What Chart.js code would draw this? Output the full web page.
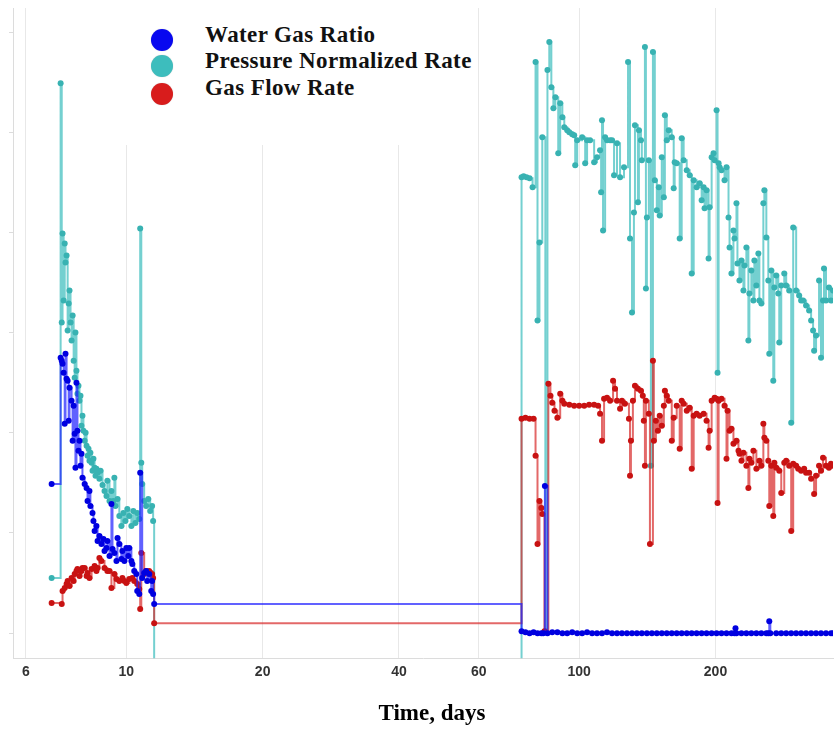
<!DOCTYPE html>
<html>
<head>
<meta charset="utf-8">
<script src="https://cdn.jsdelivr.net/npm/chart.js"></script>
<style>
  body { margin: 0; background: #fff; }
  #wrap { position: relative; width: 837px; height: 730px; }
  #legend { position: absolute; left: 78px; top: 0; width: 398px; height: 145px; background: #fff; }
  .dot { position: absolute; left: 73px; width: 22px; height: 22px; border-radius: 50%; box-shadow: 0 0 1px 0 rgba(0,0,0,0.25); }
  .lbl { position: absolute; left: 127px; font: bold 23px "Liberation Serif", "Times New Roman", serif; letter-spacing: 0.4px; line-height: 23px; color: #111; white-space: nowrap; }
  #xtitle { position: absolute; left: 0; width: 864px; top: 701px; text-align: center; font: bold 23px "Liberation Serif", "Times New Roman", serif; line-height: 23px; color: #000; }
</style>
</head>
<body>
<div id="wrap">
  <canvas id="chart" width="837" height="730"></canvas>
  <div id="legend">
    <div class="dot" style="top:29px;background:#0808f0"></div>
    <div class="lbl" style="top:23px">Water Gas Ratio</div>
    <div class="dot" style="top:55px;background:#3dbdbd"></div>
    <div class="lbl" style="top:49px">Pressure Normalized Rate</div>
    <div class="dot" style="top:83px;background:#d81c1c"></div>
    <div class="lbl" style="top:76px">Gas Flow Rate</div>
  </div>
  <div id="xtitle">Time, days</div>
</div>
<script>
// time axis (days, log scale) and y ticks (no labels on the y axis)
const xTickValues = [6, 10, 20, 40, 60, 100, 200];
const yTickValues = [0, 1, 2, 3, 4, 5, 6];

// Water Gas Ratio
const wgrDays = [
  6.84, 7.16, 7.20, 7.23, 7.27, 7.31, 7.34, 7.38, 7.42, 7.46,
  7.49, 7.57, 7.61, 7.65, 7.69, 7.72, 7.76, 7.80, 7.84, 7.88,
  7.92, 7.96, 8.00, 8.09, 8.17, 8.21, 8.29, 8.33, 8.42, 8.46,
  8.51, 8.59, 8.64, 8.72, 8.81, 8.90, 8.95, 9.04, 9.08, 9.18,
  9.27, 9.32, 9.41, 9.51, 9.56, 9.65, 9.75, 9.80, 9.90, 10.00,
  10.10, 10.15, 10.26, 10.31, 10.41, 10.52, 10.57, 10.68, 10.73, 10.84,
  10.95, 11.06, 11.12, 11.23, 11.35, 11.40, 11.46, 11.52,
  74.6, 76.1, 77.7, 79.3, 80.9, 82.5, 83.3, 84.0, 85.1, 87.2,
  89.5, 91.8, 94.1, 96.5, 99.0, 101.5, 104.1, 106.8, 109.5, 112.3,
  115.2, 118.2, 121.2, 124.3, 127.5, 130.8, 134.1, 137.5, 141.1, 144.7,
  148.4, 152.2, 156.1, 160.1, 164.2, 168.4, 172.8, 177.2, 181.7, 186.4,
  191.1, 196.1, 201.1, 206.2, 211.5, 216.9, 220.3, 221.4, 222.5, 228.2,
  234.0, 240.0, 246.2, 252.5, 259.0, 261.6, 262.9, 264.3, 272.4, 279.4,
  286.5, 293.9, 301.4, 309.1, 317.0, 325.2, 333.5, 342.0, 350.8, 359.8,
  363.5
];
const wgrValues = [
  1.49, 2.75, 2.72, 2.69, 2.60, 2.09, 2.79, 2.54, 2.52, 2.12,
  2.45, 2.32, 1.92, 2.27, 1.99, 1.65, 2.50, 2.02, 1.82, 1.92,
  1.67, 1.79, 1.55, 1.49, 1.45, 1.32, 1.42, 1.27, 1.20, 1.12,
  1.02, 1.07, 0.92, 0.97, 0.89, 0.94, 0.82, 0.85, 0.92, 0.77,
  1.29, 0.84, 0.80, 0.72, 0.95, 0.89, 0.74, 0.82, 0.72, 0.85,
  0.77, 0.85, 0.72, 0.69, 0.62, 0.59, 0.42, 0.39, 1.60, 0.55,
  0.60, 0.62, 0.52, 0.59, 0.42, 0.52, 0.39, 0.29,
  0.02, 0.01, 0.00, 0.01, 0.00, 0.00, 0.00, 1.47, 0.00, 0.01,
  0.01, 0.00, 0.00, 0.01, 0.00, 0.00, 0.01, 0.00, 0.00, 0.00,
  0.01, 0.00, 0.00, 0.00, 0.00, 0.00, 0.00, 0.00, 0.00, 0.00,
  0.00, 0.00, 0.00, 0.00, 0.00, 0.00, 0.00, 0.00, 0.00, 0.00,
  0.00, 0.00, 0.00, 0.00, 0.00, 0.00, 0.00, 0.05, 0.00, 0.00,
  0.00, 0.00, 0.00, 0.00, 0.00, 0.00, 0.12, 0.00, 0.00, 0.00,
  0.00, 0.00, 0.00, 0.00, 0.00, 0.00, 0.00, 0.00, 0.00, 0.00,
  0.00
];

// Pressure Normalized Rate (-1 = below the axis, shut-in)
const pnrDays = [
  6.84, 7.16, 7.20, 7.23, 7.27, 7.31, 7.34, 7.38, 7.42, 7.46,
  7.49, 7.53, 7.57, 7.61, 7.65, 7.69, 7.72, 7.76, 7.80, 7.84,
  7.88, 7.92, 7.96, 8.00, 8.04, 8.09, 8.13, 8.17, 8.21, 8.25,
  8.29, 8.33, 8.38, 8.42, 8.46, 8.51, 8.55, 8.59, 8.64, 8.72,
  8.77, 8.86, 8.95, 9.04, 9.08, 9.18, 9.27, 9.36, 9.41, 9.46,
  9.56, 9.65, 9.75, 9.85, 9.95, 10.05, 10.15, 10.26, 10.36, 10.47,
  10.57, 10.68, 10.73, 10.79, 10.84, 10.95, 11.06, 11.18, 11.29, 11.40,
  11.46, 11.52,
  74.6, 75.4, 76.5, 77.7, 78.9, 80.1, 80.9, 81.7, 82.9, 84.2,
  85.1, 85.9, 86.8, 87.7, 88.6, 89.9, 90.8, 91.8, 92.7, 94.1,
  95.1, 96.5, 97.5, 98.0, 99.0, 101.5, 103.1, 104.1, 105.7, 107.9,
  109.5, 111.2, 111.8, 112.3, 112.9, 114.1, 115.2, 117.0, 118.2, 119.4,
  121.2, 123.1, 125.6, 128.2, 129.5, 130.8, 132.1, 132.8, 134.8, 135.5,
  136.9, 137.5, 139.7, 140.4, 141.1, 142.5, 144.0, 145.5, 146.9, 148.4,
  149.9, 150.6, 152.2, 153.8, 154.6, 156.1, 157.7, 160.1, 161.7, 162.5,
  164.2, 166.7, 168.4, 170.1, 172.8, 175.4, 177.2, 179.0, 181.7, 184.5,
  186.4, 188.3, 189.2, 191.1, 193.1, 194.1, 196.1, 198.0, 199.1, 201.1,
  202.1, 203.2, 204.2, 206.2, 209.4, 211.5, 213.7, 214.8, 216.9, 219.1,
  220.3, 222.5, 223.6, 225.9, 228.2, 230.5, 231.7, 234.0, 236.4, 237.6,
  240.0, 242.5, 243.7, 246.2, 248.7, 250.0, 252.5, 255.1, 256.4, 259.0,
  261.6, 262.9, 265.6, 268.3, 269.7, 272.4, 275.2, 276.6, 279.4, 283.7,
  286.5, 290.9, 293.9, 296.9, 301.4, 306.0, 309.1, 312.3, 317.0, 321.9,
  325.2, 328.5, 330.2, 333.5, 338.6, 342.0, 345.5, 347.2, 350.8, 356.1,
  359.8, 363.5
];
const pnrValues = [
  0.55, 5.49, 3.10, 3.99, 3.32, 3.89, 3.70, 3.77, 3.02, 3.29,
  3.42, 3.10, 2.92, 3.17, 2.72, 2.55, 3.00, 2.62, 2.39, 2.47,
  2.32, 2.37, 2.07, 2.17, 2.02, 1.92, 2.00, 1.87, 1.77, 1.84,
  1.72, 1.80, 1.70, 1.62, 1.74, 1.65, 1.57, 1.64, 1.60, 1.54,
  1.62, 1.48, 1.42, 1.37, 1.52, 1.32, 1.42, 1.32, 1.55, 1.27,
  1.34, 1.17, 1.07, 1.20, 1.12, 1.24, 1.17, 1.07, 1.22, 1.10,
  1.20, 1.14, 4.04, 1.70, 1.49, 1.32, 1.27, 1.34, 1.22, 1.27,
  1.12, -1,
  4.55, 4.56, 4.55, 4.54, 4.45, 5.70, 3.12, 3.90, 4.95, 0.02,
  5.62, 5.90, 5.45, 5.24, 5.35, 4.79, 5.29, 5.15, 5.05, 5.02,
  5.00, 4.98, 4.97, 4.67, 4.92, 4.95, 4.69, 4.92, 4.92, 4.70,
  4.75, 4.82, 4.40, 5.12, 4.02, 4.95, 4.92, 4.92, 4.92, 4.57,
  4.89, 4.55, 4.65, 5.70, 3.94, 3.20, 4.20, 5.07, 4.30, 5.02,
  4.92, 4.72, 5.85, 3.44, 4.15, 4.72, 1.67, 5.80, 4.52, 4.22,
  4.45, 4.17, 4.75, 4.35, 5.17, 4.92, 5.02, 4.95, 4.44, 4.70,
  4.69, 3.94, 4.94, 4.72, 4.62, 4.57, 3.59, 4.52, 4.45, 4.49,
  4.32, 4.45, 4.24, 4.42, 3.74, 4.25, 4.75, 4.79, 4.72, 5.22,
  2.60, 4.69, 4.65, 4.62, 4.52, 4.65, 4.15, 3.85, 3.59, 4.02,
  3.94, 4.29, 3.69, 3.52, 3.72, 3.42, 3.67, 3.85, 2.92, 3.39,
  3.62, 3.32, 3.72, 3.47, 3.79, 3.32, 3.29, 4.29, 4.42, 3.95,
  3.52, 2.79, 3.62, 2.52, 3.45, 3.57, 3.39, 2.90, 3.47, 3.59,
  3.47, 3.42, 2.10, 4.05, 3.42, 3.37, 3.32, 3.32, 3.27, 3.22,
  3.12, 3.02, 2.82, 2.97, 3.52, 2.75, 3.32, 3.64, 3.32, 3.45,
  3.32, 3.42
];

// Gas Flow Rate
const gfrDays = [
  6.84, 7.20, 7.23, 7.31, 7.38, 7.42, 7.49, 7.57, 7.65, 7.69,
  7.76, 7.80, 7.88, 7.96, 8.00, 8.09, 8.17, 8.21, 8.29, 8.38,
  8.51, 8.59, 8.64, 8.72, 8.81, 8.95, 9.08, 9.18, 9.27, 9.41,
  9.51, 9.65, 9.80, 9.90, 10.00, 10.15, 10.31, 10.41, 10.57, 10.68,
  10.73, 10.79, 10.95, 11.06, 11.23, 11.40, 11.46, 11.52,
  74.6, 76.1, 77.7, 79.3, 80.1, 80.9, 81.7, 82.5, 82.9, 83.8,
  85.5, 86.4, 87.2, 88.2, 89.5, 90.8, 91.8, 92.7, 95.1, 97.5,
  100.0, 102.6, 105.2, 107.9, 110.1, 111.2, 112.3, 113.5, 115.2, 117.0,
  118.8, 120.0, 121.2, 123.1, 124.3, 126.2, 128.8, 129.5, 130.1, 131.4,
  132.8, 134.8, 136.9, 138.2, 138.9, 139.7, 140.4, 142.5, 143.3, 145.5,
  146.2, 147.7, 149.2, 150.6, 152.2, 153.8, 154.6, 156.1, 157.7, 160.1,
  161.7, 164.2, 166.7, 168.4, 170.1, 172.8, 175.4, 177.2, 179.0, 181.7,
  184.5, 188.3, 191.1, 193.1, 194.1, 196.1, 199.1, 201.1, 202.1, 203.2,
  206.2, 209.4, 211.5, 212.6, 214.8, 216.9, 219.1, 222.5, 224.8, 225.9,
  228.2, 230.5, 234.0, 236.4, 237.6, 240.0, 242.5, 246.2, 250.0, 252.5,
  255.1, 256.4, 259.0, 261.6, 262.9, 265.6, 268.3, 269.7, 272.4, 276.6,
  279.4, 283.7, 286.5, 290.9, 293.9, 296.9, 301.4, 304.5, 309.1, 313.9,
  317.0, 321.9, 325.2, 330.2, 333.5, 338.6, 342.0, 345.5, 350.8, 356.1,
  359.8, 363.5
];
const gfrValues = [
  0.30, 0.29, 0.42, 0.45, 0.49, 0.52, 0.47, 0.55, 0.52, 0.59,
  0.62, 0.64, 0.57, 0.62, 0.65, 0.65, 0.57, 0.60, 0.55, 0.64,
  0.67, 0.62, 0.65, 0.75, 0.72, 0.65, 0.62, 0.62, 0.45, 0.59,
  0.54, 0.52, 0.55, 0.52, 0.50, 0.54, 0.55, 0.52, 0.49, 0.44,
  0.24, 0.80, 0.59, 0.62, 0.62, 0.59, 0.55, 0.10,
  2.14, 2.15, 2.14, 2.14, 1.77, 0.89, 1.32, 1.25, 1.19, 0.02,
  2.49, 2.37, 2.30, 2.22, 2.15, 2.39, 2.32, 2.29, 2.28, 2.27,
  2.27, 2.27, 2.28, 2.28, 2.27, 2.19, 1.92, 2.34, 2.35, 2.32,
  2.52, 2.44, 2.32, 2.24, 2.32, 2.29, 2.14, 1.57, 1.92, 2.32,
  2.47, 2.44, 2.42, 2.37, 2.12, 1.67, 2.32, 2.19, 0.89, 2.72,
  1.92, 2.12, 2.02, 2.17, 2.07, 2.27, 2.42, 2.37, 2.32, 1.92,
  2.15, 2.27, 1.84, 2.32, 2.29, 2.22, 2.25, 1.64, 2.17, 2.19,
  2.17, 2.19, 2.12, 1.85, 2.02, 2.32, 2.35, 2.34, 1.30, 2.32,
  2.34, 2.27, 1.74, 2.22, 2.02, 2.04, 1.89, 1.92, 1.82, 1.79,
  1.72, 1.80, 1.67, 1.45, 1.74, 1.70, 1.82, 1.64, 1.72, 1.67,
  2.09, 1.95, 1.92, 1.72, 1.27, 1.67, 1.17, 1.70, 1.65, 1.62,
  1.40, 1.70, 1.72, 1.67, 1.02, 1.69, 1.67, 1.64, 1.62, 1.64,
  1.60, 1.60, 1.54, 1.39, 1.57, 1.67, 1.62, 1.75, 1.67, 1.65,
  1.69, 1.67
];

function toPoints(days, values) {
  return days.map((d, i) => ({ x: d, y: values[i] }));
}

function series(label, days, values, line, dot) {
  return {
    label: label,
    data: toPoints(days, values),
    stepped: 'before',
    borderColor: line,
    backgroundColor: dot,
    pointBackgroundColor: dot,
    pointBorderWidth: 0,
    pointRadius: 3,
    borderWidth: 2,
    fill: false
  };
}

new Chart(document.getElementById('chart'), {
  type: 'line',
  data: {
    datasets: [
      series('Water Gas Ratio', wgrDays, wgrValues, 'rgba(30,30,255,0.7)', '#0000e0'),
      series('Gas Flow Rate', gfrDays, gfrValues, 'rgba(215,40,40,0.7)', '#c81212'),
      series('Pressure Normalized Rate', pnrDays, pnrValues, 'rgba(70,192,192,0.75)', '#38b2b2')
    ]
  },
  options: {
    responsive: false,
    animation: false,
    devicePixelRatio: 1,
    layout: { padding: { left: 9, top: 8, right: 0, bottom: 43 } },
    plugins: { legend: { display: false }, tooltip: { enabled: false } },
    scales: {
      x: {
        type: 'logarithmic',
        min: 5.62,
        max: 363.5,
        afterBuildTicks: (scale) => { scale.ticks = xTickValues.map(v => ({ value: v })); },
        ticks: {
          callback: (v) => String(v),
          autoSkip: false,
          maxRotation: 0,
          padding: 6,
          color: '#333',
          font: { family: 'Liberation Sans', weight: 'bold', size: 14 }
        },
        grid: { color: '#e8e8e8', drawTicks: false },
        border: { color: '#dcdcdc' }
      },
      y: {
        min: -0.25,
        max: 6.24,
        afterBuildTicks: (scale) => { scale.ticks = yTickValues.map(v => ({ value: v })); },
        ticks: { display: false },
        grid: { drawOnChartArea: false, tickLength: 4, color: '#dcdcdc' },
        border: { color: '#dcdcdc' }
      }
    }
  }
});
</script>
</body>
</html>
